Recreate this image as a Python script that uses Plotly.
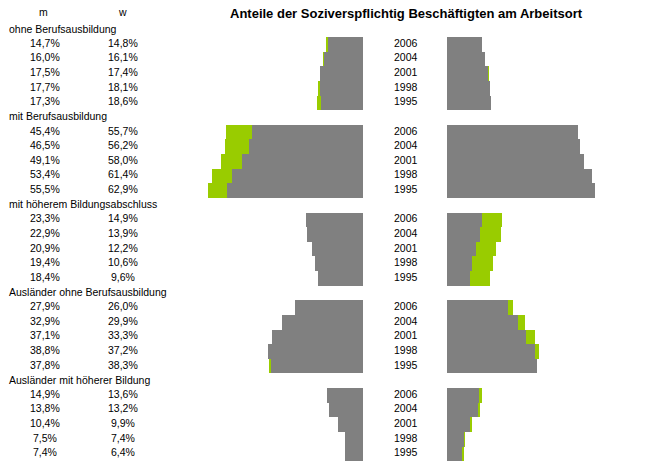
import plotly.graph_objects as go

groups = ["ohne Berufsausbildung", "mit Berufsausbildung", "mit höherem Bildungsabschluss",
          "Ausländer ohne Berufsausbildung", "Ausländer mit höherer Bildung"]
years = ["2006", "2004", "2001", "1998", "1995"]
m_ohne = [14.7, 16.0, 17.5, 17.7, 17.3]
w_ohne = [14.8, 16.1, 17.4, 18.1, 18.6]
m_mit = [45.4, 46.5, 49.1, 53.4, 55.5]
w_mit = [55.7, 56.2, 58.0, 61.4, 62.9]
m_hoch = [23.3, 22.9, 20.9, 19.4, 18.4]
w_hoch = [14.9, 13.9, 12.2, 10.6, 9.6]
m_aus_ohne = [27.9, 32.9, 37.1, 38.8, 37.8]
w_aus_ohne = [26.0, 29.9, 33.3, 37.2, 38.3]
m_aus_hoch = [14.9, 13.8, 10.4, 7.5, 7.4]
w_aus_hoch = [13.6, 13.2, 9.9, 7.4, 6.4]
m_series = [m_ohne, m_mit, m_hoch, m_aus_ohne, m_aus_hoch]
w_series = [w_ohne, w_mit, w_hoch, w_aus_ohne, w_aus_hoch]

GRAY = "#808080"
GREEN = "#99cc00"
OFF = 0  # page body margin removed via post_script
W, H = 653 - OFF, 464 - OFF
FONT = "Liberation Sans, Arial, sans-serif"


def px_x(v):
    return (v - OFF) / W


def px_y(v):
    return 1 - (v - OFF) / H


def fmt(v):
    return f"{v:.1f}".replace(".", ",") + "%"


rows_y, m_all, w_all = [], [], []
annotations = []
for g, (name, ms, ws) in enumerate(zip(groups, m_series, w_series)):
    header_k = g * 6
    annotations.append(dict(text=name, x=px_x(7), xref="paper", xanchor="left",
                            y=header_k - 0.08, yref="y", showarrow=False,
                            font=dict(size=10.5, color="black", family=FONT)))
    for i, (yr, mv, wv) in enumerate(zip(years, ms, ws)):
        k = header_k + 1 + i
        rows_y.append(k)
        m_all.append(mv)
        w_all.append(wv)
        for txt, px in ((fmt(mv), 45), (fmt(wv), 123), (yr, 405.5)):
            annotations.append(dict(text=txt, x=px_x(px), xref="paper", xanchor="center",
                                    y=k - 0.1, yref="y", showarrow=False,
                                    font=dict(size=10.5, color="black", family=FONT)))

green_left = [max(0.0, w - m) for m, w in zip(m_all, w_all)]
green_right = [max(0.0, m - w) for m, w in zip(m_all, w_all)]

fig = go.Figure()
fig.add_trace(go.Bar(y=rows_y, x=m_all, orientation="h", marker=dict(color=GRAY, line=dict(width=0)),
                     width=1.0, xaxis="x", yaxis="y", showlegend=False))
fig.add_trace(go.Bar(y=rows_y, x=green_left, base=m_all, orientation="h",
                     marker=dict(color=GREEN, line=dict(width=0)),
                     width=1.0, xaxis="x", yaxis="y", showlegend=False))
fig.add_trace(go.Bar(y=rows_y, x=w_all, orientation="h", marker=dict(color=GRAY, line=dict(width=0)),
                     width=1.0, xaxis="x2", yaxis="y", showlegend=False))
fig.add_trace(go.Bar(y=rows_y, x=green_right, base=w_all, orientation="h",
                     marker=dict(color=GREEN, line=dict(width=0)),
                     width=1.0, xaxis="x2", yaxis="y", showlegend=False))

annotations.append(dict(text="m", x=px_x(43), xref="paper", xanchor="center",
                        y=px_y(12), yref="paper", yanchor="middle", showarrow=False,
                        font=dict(size=10.5, color="black", family=FONT)))
annotations.append(dict(text="w", x=px_x(122), xref="paper", xanchor="center",
                        y=px_y(12), yref="paper", yanchor="middle", showarrow=False,
                        font=dict(size=10.5, color="black", family=FONT)))
annotations.append(dict(text="<b>Anteile der Soziverspflichtig Beschäftigten am Arbeitsort</b>",
                        x=px_x(406), xref="paper", xanchor="center",
                        y=px_y(13), yref="paper", yanchor="middle", showarrow=False,
                        font=dict(size=13, color="black", family=FONT)))

row_px = 14.625
top_px = 29.7 - OFF
k_top = -top_px / row_px
k_bot = (H - top_px) / row_px
left_scale, right_scale = 2.46, 2.36
axis_max = 70

fig.update_layout(
    width=W, height=H,
    margin=dict(l=0, r=0, t=0, b=0),
    paper_bgcolor="white", plot_bgcolor="white",
    barmode="overlay", bargap=0,
    xaxis=dict(domain=[px_x(363 - axis_max * left_scale), px_x(363)], range=[axis_max, 0],
               showgrid=False, zeroline=False, showticklabels=False, showline=False, fixedrange=True),
    xaxis2=dict(domain=[px_x(447), px_x(447 + axis_max * right_scale)], range=[0, axis_max],
                anchor="y", showgrid=False, zeroline=False, showticklabels=False, showline=False,
                fixedrange=True),
    yaxis=dict(range=[k_bot, k_top], domain=[0, 1], showgrid=False, zeroline=False,
               showticklabels=False, showline=False, fixedrange=True),
    annotations=annotations,
    font=dict(family=FONT),
)

fig.write_html("out.html", config={"displayModeBar": False},
               post_script="document.body.style.margin='0';document.body.style.overflow='hidden';")
